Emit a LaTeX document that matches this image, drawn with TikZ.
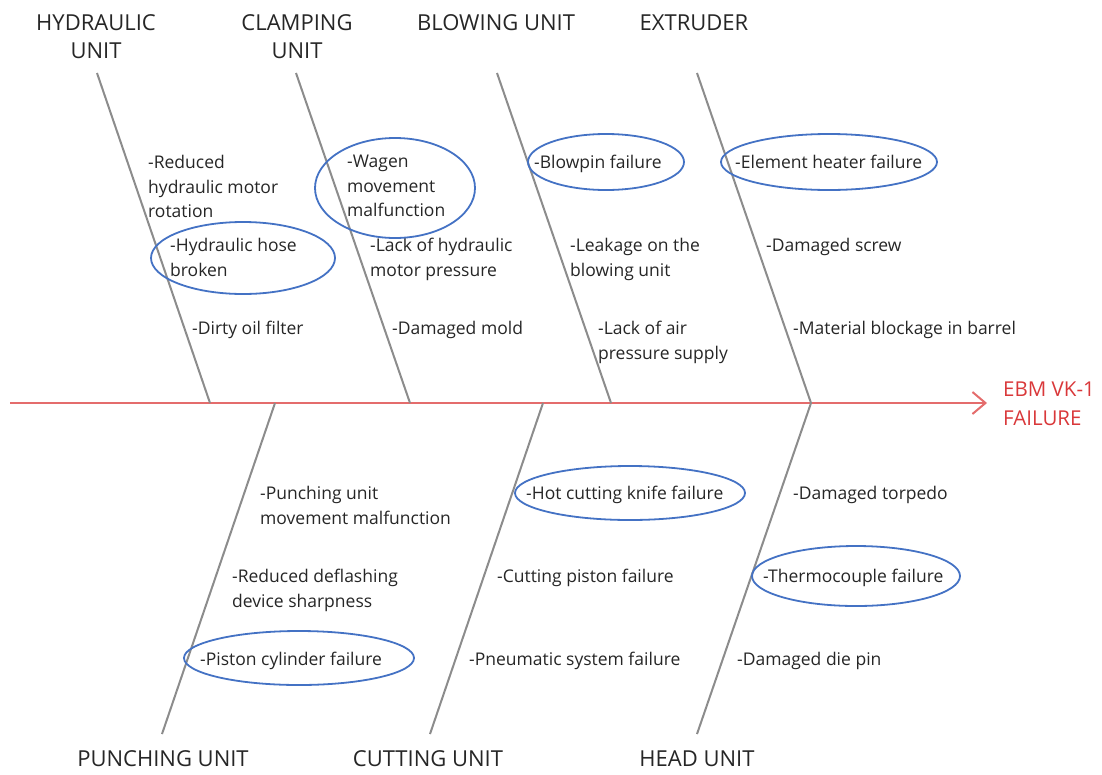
\documentclass[tikz,border=0pt]{standalone}
\usepackage{fontspec}
\setmainfont{Open Sans}
\usetikzlibrary{arrows.meta}
\definecolor{bonegray}{HTML}{8C8C8C}
\definecolor{spinered}{HTML}{E46C6C}
\definecolor{effectred}{HTML}{D9383A}
\definecolor{ringblue}{HTML}{4472C4}
\tikzset{
  spine/.style={
    -{Straight Barb[length=13pt,width=22pt,line width=2pt]},
    line width=2.4pt,
    color=spinered
  },
  bone/.style={
    line width=2pt,
    color=bonegray
  },
  category/.style={
    font=\fontsize{22}{28}\selectfont,
    align=center,
    anchor=north,
    inner sep=0pt,
    text=black!85,
    execute at begin node=\strut
  },
  cause/.style={
    font=\fontsize{17.5}{24.5}\selectfont,
    align=left,
    anchor=north west,
    inner sep=0pt,
    text=black!85,
    execute at begin node=\strut
  },
  effect/.style={
    font=\fontsize{20.5}{29}\selectfont,
    align=left,
    anchor=north west,
    inner sep=0pt,
    text=effectred,
    execute at begin node=\strut
  },
  ring/.style={
    draw=ringblue,
    line width=1.8pt
  }
}

\begin{document}
\begin{tikzpicture}[x=1pt, y=-1pt]
    \useasboundingbox (0,0) rectangle (1102,774);

    % kopfzeile und fusszeile: gruppen
    \node[category] (hyd) at (96,14.3) {HYDRAULIC\\UNIT};
    \node[category] (clamp) at (297,14.3) {CLAMPING\\UNIT};
    \node[category] (blow) at (496,10.3) {BLOWING UNIT};
    \node[category] (extr) at (694,10.3) {EXTRUDER};
    \node[category] (punch) at (163,746.3) {PUNCHING UNIT};
    \node[category] (cut) at (428,746.3) {CUTTING UNIT};
    \node[category] (head) at (697,746.3) {HEAD UNIT};

    % hauptgraete
    \coordinate (tail) at (10,403);
    \coordinate (tip) at (987,403);
    \draw[spine] (tail) -- (tip);
    \node[effect] (fail) at (1003,382) {EBM VK-1\\FAILURE};

    % graeten oben
    \coordinate (hyd top) at (97,73);    \coordinate (hyd root) at (210,403);
    \coordinate (clamp top) at (296,73); \coordinate (clamp root) at (410,403);
    \coordinate (blow top) at (497,73);  \coordinate (blow root) at (611,403);
    \coordinate (extr top) at (697,73);  \coordinate (extr root) at (811,403);
    \foreach \b in {hyd, clamp, blow, extr} {
      \draw[bone] (\b\space top) -- (\b\space root);
    }

    % graeten unten
    \coordinate (punch root) at (275,403); \coordinate (punch end) at (162,734);
    \coordinate (cut root) at (543,403);   \coordinate (cut end) at (430,734);
    \coordinate (head root) at (811,403);  \coordinate (head end) at (697,734);
    \foreach \b in {punch, cut, head} {
      \draw[bone] (\b\space root) -- (\b\space end);
    }

    % ursachen: hydraulic unit
    \node[cause] (hyd a) at (148,155) {-Reduced\\hydraulic motor\\rotation};
    \node[cause] (hyd b) at (170,238) {-Hydraulic hose\\broken};
    \node[cause] (hyd c) at (192,317) {-Dirty oil filter};

    % ursachen: clamping unit
    \node[cause] (clamp a) at (347,155) {-Wagen\\movement\\malfunction};
    \node[cause] (clamp b) at (370,238) {-Lack of hydraulic\\motor pressure};
    \node[cause] (clamp c) at (392,317) {-Damaged mold};

    % ursachen: blowing unit
    \node[cause] (blow a) at (534,151) {-Blowpin failure};
    \node[cause] (blow b) at (570,238) {-Leakage on the\\blowing unit};
    \node[cause] (blow c) at (598,321) {-Lack of air\\pressure supply};

    % ursachen: extruder
    \node[cause] (extr a) at (735,151) {-Element heater failure};
    \node[cause] (extr b) at (766,234) {-Damaged screw};
    \node[cause] (extr c) at (793,317) {-Material blockage in barrel};

    % ursachen: punching unit
    \node[cause] (punch a) at (260,486) {-Punching unit\\movement malfunction};
    \node[cause] (punch b) at (232,569) {-Reduced deflashing\\device sharpness};
    \node[cause] (punch c) at (200,648) {-Piston cylinder failure};

    % ursachen: cutting unit
    \node[cause] (cut a) at (526,482) {-Hot cutting knife failure};
    \node[cause] (cut b) at (497,565) {-Cutting piston failure};
    \node[cause] (cut c) at (469,648) {-Pneumatic system failure};

    % ursachen: head unit
    \node[cause] (head a) at (793,482) {-Damaged torpedo};
    \node[cause] (head b) at (763,565) {-Thermocouple failure};
    \node[cause] (head c) at (737,648) {-Damaged die pin};

    % markierte hauptursachen
    \draw[ring] (243,258) ellipse [x radius=92, y radius=36];
    \draw[ring] (395,188) ellipse [x radius=80, y radius=50];
    \draw[ring] (606,162) ellipse [x radius=78, y radius=28];
    \draw[ring] (829,162) ellipse [x radius=108, y radius=28];
    \draw[ring] (299,658) ellipse [x radius=115, y radius=27];
    \draw[ring] (630,493) ellipse [x radius=115, y radius=27];
    \draw[ring] (856,576) ellipse [x radius=104, y radius=30];

\end{tikzpicture}
\end{document}
